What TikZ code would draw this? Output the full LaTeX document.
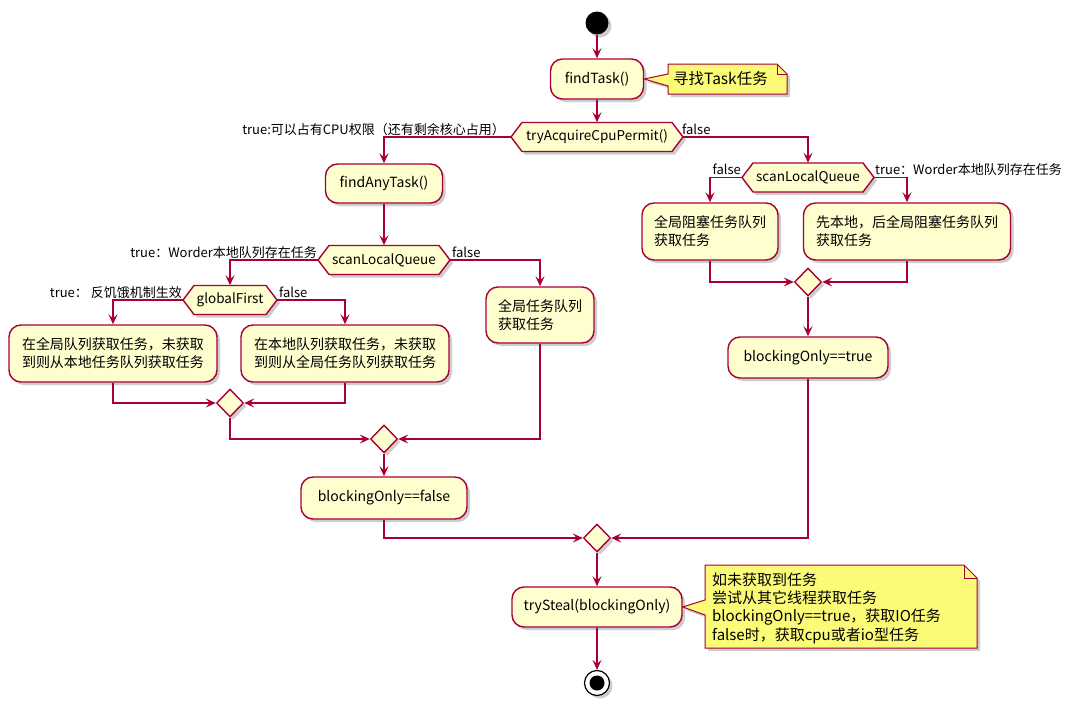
\documentclass[tikz,border=0pt]{standalone}
\usepackage{fontspec}
\setmainfont{Noto Sans CJK SC}
\usetikzlibrary{arrows.meta,shapes.geometric,shadows}
\definecolor{ln}{HTML}{A80036}
\definecolor{bx}{HTML}{FEFECE}
\definecolor{nt}{HTML}{FBFB77}
\tikzset{
  shad/.style={drop shadow={shadow xshift=3pt,shadow yshift=-3pt,opacity=0.28,fill=black!70}},
  act/.style={draw=ln, fill=bx, line width=1.4pt, rounded corners=12pt, shad, inner sep=0pt,
    font=\fontsize{14}{18}\selectfont, align=left},
  hexshape/.style={draw=ln, fill=bx, line width=1.4pt, shad},
  hextext/.style={inner sep=0pt, minimum height=29pt, font=\fontsize{13.5}{16}\selectfont},
  merge/.style={diamond, draw=ln, fill=bx, line width=1.4pt, minimum width=27pt, minimum height=28pt, inner sep=0pt, shad},
  flow/.style={draw=ln, line width=1.4pt, -{Stealth[length=10pt,width=9pt,inset=4pt]}},
  lab/.style={font=\fontsize{13}{15}\selectfont, inner sep=0pt, text=black},
  notesh/.style={draw=ln, fill=nt, line width=1pt, shad},
  foldline/.style={draw=ln, line width=1pt},
  notetext/.style={inner sep=0pt, align=left},
}
% name, x, y, half flat width, text
\newcommand\hexnode[5]{%
  \draw[hexshape] ({#2-#4-11},#3) -- ({#2-#4},{#3-14.5}) -- ({#2+#4},{#3-14.5}) -- ({#2+#4+11},#3)
    -- ({#2+#4},{#3+14.5}) -- ({#2-#4},{#3+14.5}) -- cycle;
  \node[hextext, minimum width={2*#4}] (#1) at (#2,#3) {#5};
  \coordinate (#1L) at ({#2-#4-11},#3);
  \coordinate (#1R) at ({#2+#4+11},#3);
}
\begin{document}
\begin{tikzpicture}[x=1pt,y=-1pt]
\fill[white] (0,0) rectangle (1080,712);
\useasboundingbox (0,0) rectangle (1080,712);

% start
\node[circle, fill=black, minimum size=23pt, inner sep=0pt, shad] (st) at (597,23) {};
\node[act, minimum width=93pt, minimum height=40pt, align=center] (ft) at (597,79) {findTask()};

% note 1
\draw[notesh] (668,64) -- (777,64) -- (787,74) -- (787,94) -- (668,94) -- (668,86) -- (ft.east) -- (668,74) -- cycle;
\draw[foldline] (777,64) -- (777,74) -- (787,74);
\node[notetext, anchor=west, font=\fontsize{15.5}{18}\selectfont] (n1) at (673,79) {寻找Task任务};

\hexnode{tac}{597}{137}{75}{tryAcquireCpuPermit()}

% left branch
\node[act, minimum width=117pt, minimum height=39pt, align=center] (fat) at (384,183.5) {findAnyTask()};
\hexnode{sla}{384}{260}{55}{scanLocalQueue}
\hexnode{gf}{230}{300}{36}{globalFirst}
\node[act, minimum width=208pt, minimum height=57pt] (b1) at (113,353.5) {在全局队列获取任务，未获取\\到则从本地任务队列获取任务};
\node[act, minimum width=208pt, minimum height=57pt] (b2) at (345,353.5) {在本地队列获取任务，未获取\\到则从全局任务队列获取任务};
\node[act, minimum width=108pt, minimum height=56pt] (b3) at (540,315) {全局任务队列\\获取任务};
\node[merge] (d1) at (230,403) {};
\node[merge] (d2) at (384,439) {};
\node[act, minimum width=166pt, minimum height=42pt, align=center] (bf) at (384,498) {blockingOnly==false};

% right branch
\hexnode{slb}{808}{177.5}{55}{scanLocalQueue}
\node[act, minimum width=136pt, minimum height=57pt] (r1) at (710,231.5) {全局阻塞任务队列\\获取任务};
\node[act, minimum width=207pt, minimum height=57pt] (r2) at (907,231.5) {先本地，后全局阻塞任务队列\\获取任务};
\node[merge] (dr) at (808,282) {};
\node[act, minimum width=160pt, minimum height=41pt, align=center] (bt) at (808,357.5) {blockingOnly==true};

% final
\node[merge] (df) at (597,538) {};
\node[act, minimum width=170pt, minimum height=40pt, align=center] (ts) at (597,607) {trySteal(blockingOnly)};
\node[circle, draw=black, fill=white, line width=1.2pt, minimum size=25pt, inner sep=0pt, shad] (en) at (597,683) {};
\node[circle, fill=black, minimum size=15pt, inner sep=0pt] (eni) at (en.center) {};

% note 2
\draw[notesh] (705,565) -- (964,565) -- (977,578) -- (977,648) -- (705,648) -- (705,615) -- (ts.east) -- (705,600) -- cycle;
\draw[foldline] (964,565) -- (964,578) -- (977,578);
\node[notetext, anchor=west, font=\fontsize{15}{18.3}\selectfont] (n2) at (712,608) {如未获取到任务\\尝试从其它线程获取任务\\blockingOnly==true，获取IO任务\\false时，获取cpu或者io型任务};

% labels
\node[lab, anchor=base east] (l1) at ([xshift=-6pt,yshift=3pt]tacL) {true:可以占有CPU权限（还有剩余核心占用）};
\node[lab, anchor=base west] (l2) at ([xshift=-1pt,yshift=3pt]tacR) {false};
\node[lab, anchor=base east] (l3) at ([xshift=-1pt,yshift=3pt]slaL) {true：Worder本地队列存在任务};
\node[lab, anchor=base west] (l4) at ([xshift=2pt,yshift=3pt]slaR) {false};
\node[lab, anchor=base east] (l5) at ([xshift=-1pt,yshift=3pt]gfL) {true： 反饥饿机制生效};
\node[lab, anchor=base west] (l6) at ([xshift=2pt,yshift=3pt]gfR) {false};
\node[lab, anchor=base east] (l7) at ([xshift=-1pt,yshift=3pt]slbL) {false};
\node[lab, anchor=base west] (l8) at ([xshift=1pt,yshift=3pt]slbR) {true：Worder本地队列存在任务};

% connectors
\draw[flow] (st) -- (ft);
\draw[flow] (ft) -- (tac.north);
\draw[flow] (tacL) -| (fat.north);
\draw[flow] (tacR) -| (slb.north);
\draw[flow] (fat) -- (sla.north);
\draw[flow] (slaL) -| (gf.north);
\draw[flow] (slaR) -| (b3.north);
\draw[flow] (gfL) -| (b1.north);
\draw[flow] (gfR) -| (b2.north);
\draw[flow] (b1.south) |- (d1.west);
\draw[flow] (b2.south) |- (d1.east);
\draw[flow] (d1.south) |- (d2.west);
\draw[flow] (b3.south) |- (d2.east);
\draw[flow] (d2.south) -- (bf.north);
\draw[flow] (slbL) -| (r1.north);
\draw[flow] (slbR) -| (r2.north);
\draw[flow] (r1.south) |- (dr.west);
\draw[flow] (r2.south) |- (dr.east);
\draw[flow] (dr.south) -- (bt.north);
\draw[flow] (bf.south) |- (df.west);
\draw[flow] (bt.south) |- (df.east);
\draw[flow] (df.south) -- (ts.north);
\draw[flow] (ts.south) -- (en.north);
\end{tikzpicture}
\end{document}
